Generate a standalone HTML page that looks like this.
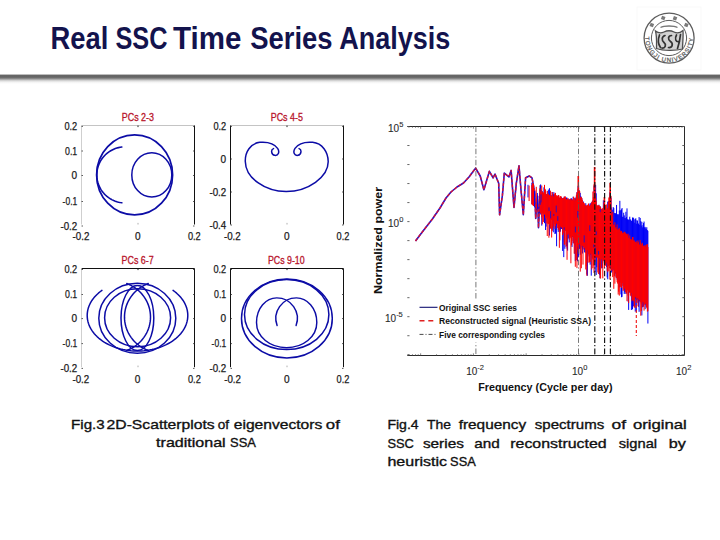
<!DOCTYPE html>
<html><head><meta charset="utf-8"><style>
html,body{margin:0;padding:0;background:#fff;width:720px;height:540px;overflow:hidden}
svg{position:absolute;left:0;top:0}
text{font-family:"Liberation Sans", sans-serif}
.bar{position:absolute;left:0;top:73px;width:720px;height:12px;
background:linear-gradient(to bottom,#fff 0px,#fff 1px,#b0b0b0 1.6px,#666 2.4px,#656565 4.2px,#8a8a8a 5.6px,#cfcfcf 7.4px,#f2f2f2 9px,#fff 11px)}
</style></head><body>
<div class="bar"></div>
<svg width="720" height="540" viewBox="0 0 720 540">
<text x="50.60" y="48.5" font-size="30.8" font-weight="bold" fill="#13134d" textLength="57.80" lengthAdjust="spacingAndGlyphs">Real</text><text x="115.40" y="48.5" font-size="30.8" font-weight="bold" fill="#13134d" textLength="52.00" lengthAdjust="spacingAndGlyphs">SSC</text><text x="173.00" y="48.5" font-size="30.8" font-weight="bold" fill="#13134d" textLength="68.40" lengthAdjust="spacingAndGlyphs">Time</text><text x="250.20" y="48.5" font-size="30.8" font-weight="bold" fill="#13134d" textLength="82.40" lengthAdjust="spacingAndGlyphs">Series</text><text x="339.20" y="48.5" font-size="30.8" font-weight="bold" fill="#13134d" textLength="111.20" lengthAdjust="spacingAndGlyphs">Analysis</text>
<line x1="81.5" y1="125.5" x2="194.5" y2="125.5" stroke="#c4c4c4" stroke-width="1"/><line x1="81.5" y1="125.5" x2="81.5" y2="224.5" stroke="#cfcfcf" stroke-width="1"/><line x1="194.5" y1="125.5" x2="194.5" y2="224.5" stroke="#111" stroke-width="1"/><text x="77.2" y="130.1" font-size="10.3" text-anchor="end" fill="#1a1a1a" stroke="#1a1a1a" stroke-width="0.25" font-weight="normal" textLength="12.8" lengthAdjust="spacingAndGlyphs">0.2</text><line x1="81.5" y1="126.4" x2="83.0" y2="126.4" stroke="#333" stroke-width="0.8"/><line x1="193.0" y1="126.4" x2="194.5" y2="126.4" stroke="#333" stroke-width="0.8"/><text x="77.2" y="154.7" font-size="10.3" text-anchor="end" fill="#1a1a1a" stroke="#1a1a1a" stroke-width="0.25" font-weight="normal" textLength="12.2" lengthAdjust="spacingAndGlyphs">0.1</text><line x1="81.5" y1="151" x2="83.0" y2="151" stroke="#333" stroke-width="0.8"/><line x1="193.0" y1="151" x2="194.5" y2="151" stroke="#333" stroke-width="0.8"/><text x="77.2" y="179.2" font-size="10.3" text-anchor="end" fill="#1a1a1a" stroke="#1a1a1a" stroke-width="0.25" font-weight="normal" textLength="5.6" lengthAdjust="spacingAndGlyphs">0</text><line x1="81.5" y1="175.5" x2="83.0" y2="175.5" stroke="#333" stroke-width="0.8"/><line x1="193.0" y1="175.5" x2="194.5" y2="175.5" stroke="#333" stroke-width="0.8"/><text x="77.2" y="205.2" font-size="10.3" text-anchor="end" fill="#1a1a1a" stroke="#1a1a1a" stroke-width="0.25" font-weight="normal" textLength="14.6" lengthAdjust="spacingAndGlyphs">-0.1</text><line x1="81.5" y1="201.5" x2="83.0" y2="201.5" stroke="#333" stroke-width="0.8"/><line x1="193.0" y1="201.5" x2="194.5" y2="201.5" stroke="#333" stroke-width="0.8"/><text x="77.2" y="229.7" font-size="10.3" text-anchor="end" fill="#1a1a1a" stroke="#1a1a1a" stroke-width="0.25" font-weight="normal" textLength="16.8" lengthAdjust="spacingAndGlyphs">-0.2</text><line x1="81.5" y1="226" x2="83.0" y2="226" stroke="#333" stroke-width="0.8"/><line x1="193.0" y1="226" x2="194.5" y2="226" stroke="#333" stroke-width="0.8"/><text x="81" y="239.8" font-size="10.3" text-anchor="middle" fill="#1a1a1a" stroke="#1a1a1a" stroke-width="0.25" font-weight="normal" textLength="16.8" lengthAdjust="spacingAndGlyphs">-0.2</text><text x="137.7" y="239.8" font-size="10.3" text-anchor="middle" fill="#1a1a1a" stroke="#1a1a1a" stroke-width="0.25" font-weight="normal" textLength="5.6" lengthAdjust="spacingAndGlyphs">0</text><text x="194.3" y="239.8" font-size="10.3" text-anchor="middle" fill="#1a1a1a" stroke="#1a1a1a" stroke-width="0.25" font-weight="normal" textLength="12.8" lengthAdjust="spacingAndGlyphs">0.2</text><line x1="138.0" y1="125.5" x2="138.0" y2="127.1" stroke="#222" stroke-width="1"/><line x1="138.0" y1="222.9" x2="138.0" y2="224.5" stroke="#999" stroke-width="0.8"/><text x="137.9" y="121.4" font-size="10.5" text-anchor="middle" fill="#b8142a" stroke="#b8142a" stroke-width="0.3" textLength="32.199999999999996" lengthAdjust="spacingAndGlyphs">PCs 2-3</text><ellipse cx="134.6" cy="174.9" rx="38" ry="40" fill="none" stroke="#0c0ca6" stroke-width="1.7"/><ellipse cx="151.8" cy="174.9" rx="20" ry="22.2" fill="none" stroke="#0c0ca6" stroke-width="1.5"/><path d="M121.83,147.01 L120.16,147.26 L118.51,147.61 L116.89,148.05 L115.30,148.59 L113.74,149.22 L112.22,149.94 L110.74,150.74 L109.32,151.63 L107.95,152.60 L106.65,153.65 L105.41,154.78 L104.24,155.97 L103.14,157.23 L102.12,158.55 L101.18,159.93 L100.32,161.36 L99.56,162.84 L98.88,164.36 L98.29,165.92 L97.80,167.51 L97.41,169.13 L97.11,170.76 L96.91,172.41 L96.81,174.07 L96.81,175.73 L96.91,177.39 L97.11,179.04 L97.41,180.67 L97.80,182.29 L98.29,183.88 L98.88,185.44 L99.56,186.96 L100.32,188.44 L101.18,189.87 L102.12,191.25 L103.14,192.57 L104.24,193.83 L105.41,195.02 L106.65,196.15 L107.95,197.20 L109.32,198.17 L110.74,199.06 L112.22,199.86 L113.74,200.58 L115.30,201.21 L116.89,201.75 L118.51,202.19 L120.16,202.54 L121.83,202.79" fill="none" stroke="#0c0ca6" stroke-width="1.6" stroke-linecap="round" stroke-linejoin="round"/><line x1="230.5" y1="125.5" x2="343.5" y2="125.5" stroke="#c4c4c4" stroke-width="1"/><line x1="230.5" y1="125.5" x2="230.5" y2="224.5" stroke="#111" stroke-width="1"/><line x1="343.5" y1="125.5" x2="343.5" y2="224.5" stroke="#111" stroke-width="1"/><text x="226.2" y="130.1" font-size="10.3" text-anchor="end" fill="#1a1a1a" stroke="#1a1a1a" stroke-width="0.25" font-weight="normal" textLength="12.8" lengthAdjust="spacingAndGlyphs">0.2</text><line x1="230.5" y1="126.4" x2="232.0" y2="126.4" stroke="#333" stroke-width="0.8"/><line x1="342.0" y1="126.4" x2="343.5" y2="126.4" stroke="#333" stroke-width="0.8"/><text x="226.2" y="162.7" font-size="10.3" text-anchor="end" fill="#1a1a1a" stroke="#1a1a1a" stroke-width="0.25" font-weight="normal" textLength="5.6" lengthAdjust="spacingAndGlyphs">0</text><line x1="230.5" y1="159" x2="232.0" y2="159" stroke="#333" stroke-width="0.8"/><line x1="342.0" y1="159" x2="343.5" y2="159" stroke="#333" stroke-width="0.8"/><text x="226.2" y="195.7" font-size="10.3" text-anchor="end" fill="#1a1a1a" stroke="#1a1a1a" stroke-width="0.25" font-weight="normal" textLength="16.8" lengthAdjust="spacingAndGlyphs">-0.2</text><line x1="230.5" y1="192" x2="232.0" y2="192" stroke="#333" stroke-width="0.8"/><line x1="342.0" y1="192" x2="343.5" y2="192" stroke="#333" stroke-width="0.8"/><text x="226.2" y="228.7" font-size="10.3" text-anchor="end" fill="#1a1a1a" stroke="#1a1a1a" stroke-width="0.25" font-weight="normal" textLength="16.8" lengthAdjust="spacingAndGlyphs">-0.4</text><line x1="230.5" y1="225" x2="232.0" y2="225" stroke="#333" stroke-width="0.8"/><line x1="342.0" y1="225" x2="343.5" y2="225" stroke="#333" stroke-width="0.8"/><text x="232.3" y="239.8" font-size="10.3" text-anchor="middle" fill="#1a1a1a" stroke="#1a1a1a" stroke-width="0.25" font-weight="normal" textLength="16.8" lengthAdjust="spacingAndGlyphs">-0.2</text><text x="286.8" y="239.8" font-size="10.3" text-anchor="middle" fill="#1a1a1a" stroke="#1a1a1a" stroke-width="0.25" font-weight="normal" textLength="5.6" lengthAdjust="spacingAndGlyphs">0</text><text x="343" y="239.8" font-size="10.3" text-anchor="middle" fill="#1a1a1a" stroke="#1a1a1a" stroke-width="0.25" font-weight="normal" textLength="12.8" lengthAdjust="spacingAndGlyphs">0.2</text><line x1="287.0" y1="125.5" x2="287.0" y2="127.1" stroke="#222" stroke-width="1"/><line x1="287.0" y1="222.9" x2="287.0" y2="224.5" stroke="#999" stroke-width="0.8"/><text x="286.8" y="121.4" font-size="10.5" text-anchor="middle" fill="#b8142a" stroke="#b8142a" stroke-width="0.3" textLength="32.199999999999996" lengthAdjust="spacingAndGlyphs">PCs 4-5</text><path d="M273.5,148.6 C270.6,149.6 271.2,154.6 274.6,155.3 C278.2,156 280,152 277.6,148.4 C274,143.2 266,141.8 259.8,142.3 C250.5,143.3 245,152 245.3,161.4 C245.6,178 265,191.5 286.2,191.5 C308,191.5 328.5,177 328.2,161.4 C328,152 322.5,143.3 312.6,142.3 C306.5,141.8 298.6,143.2 295,148.4 C292.6,152 294.4,156 298,155.3 C301.4,154.6 302,149.6 299.1,148.6" fill="none" stroke="#0c0ca6" stroke-width="1.5" stroke-linecap="round" stroke-linejoin="round"/><line x1="81.5" y1="268.5" x2="194.5" y2="268.5" stroke="#111" stroke-width="1"/><line x1="81.5" y1="268.5" x2="81.5" y2="367.2" stroke="#cfcfcf" stroke-width="1"/><line x1="194.5" y1="268.5" x2="194.5" y2="367.2" stroke="#111" stroke-width="1"/><text x="77.2" y="273.2" font-size="10.3" text-anchor="end" fill="#1a1a1a" stroke="#1a1a1a" stroke-width="0.25" font-weight="normal" textLength="12.8" lengthAdjust="spacingAndGlyphs">0.2</text><line x1="81.5" y1="269.5" x2="83.0" y2="269.5" stroke="#333" stroke-width="0.8"/><line x1="193.0" y1="269.5" x2="194.5" y2="269.5" stroke="#333" stroke-width="0.8"/><text x="77.2" y="298.2" font-size="10.3" text-anchor="end" fill="#1a1a1a" stroke="#1a1a1a" stroke-width="0.25" font-weight="normal" textLength="12.2" lengthAdjust="spacingAndGlyphs">0.1</text><line x1="81.5" y1="294.5" x2="83.0" y2="294.5" stroke="#333" stroke-width="0.8"/><line x1="193.0" y1="294.5" x2="194.5" y2="294.5" stroke="#333" stroke-width="0.8"/><text x="77.2" y="322.3" font-size="10.3" text-anchor="end" fill="#1a1a1a" stroke="#1a1a1a" stroke-width="0.25" font-weight="normal" textLength="5.6" lengthAdjust="spacingAndGlyphs">0</text><line x1="81.5" y1="318.6" x2="83.0" y2="318.6" stroke="#333" stroke-width="0.8"/><line x1="193.0" y1="318.6" x2="194.5" y2="318.6" stroke="#333" stroke-width="0.8"/><text x="77.2" y="347.3" font-size="10.3" text-anchor="end" fill="#1a1a1a" stroke="#1a1a1a" stroke-width="0.25" font-weight="normal" textLength="14.6" lengthAdjust="spacingAndGlyphs">-0.1</text><line x1="81.5" y1="343.6" x2="83.0" y2="343.6" stroke="#333" stroke-width="0.8"/><line x1="193.0" y1="343.6" x2="194.5" y2="343.6" stroke="#333" stroke-width="0.8"/><text x="77.2" y="372.09999999999997" font-size="10.3" text-anchor="end" fill="#1a1a1a" stroke="#1a1a1a" stroke-width="0.25" font-weight="normal" textLength="16.8" lengthAdjust="spacingAndGlyphs">-0.2</text><line x1="81.5" y1="368.4" x2="83.0" y2="368.4" stroke="#333" stroke-width="0.8"/><line x1="193.0" y1="368.4" x2="194.5" y2="368.4" stroke="#333" stroke-width="0.8"/><text x="80.8" y="382.5" font-size="10.3" text-anchor="middle" fill="#1a1a1a" stroke="#1a1a1a" stroke-width="0.25" font-weight="normal" textLength="16.8" lengthAdjust="spacingAndGlyphs">-0.2</text><text x="137.6" y="382.5" font-size="10.3" text-anchor="middle" fill="#1a1a1a" stroke="#1a1a1a" stroke-width="0.25" font-weight="normal" textLength="5.6" lengthAdjust="spacingAndGlyphs">0</text><text x="194.4" y="382.5" font-size="10.3" text-anchor="middle" fill="#1a1a1a" stroke="#1a1a1a" stroke-width="0.25" font-weight="normal" textLength="12.8" lengthAdjust="spacingAndGlyphs">0.2</text><line x1="138.0" y1="268.5" x2="138.0" y2="270.1" stroke="#222" stroke-width="1"/><line x1="138.0" y1="365.59999999999997" x2="138.0" y2="367.2" stroke="#999" stroke-width="0.8"/><text x="137.6" y="264.4" font-size="10.5" text-anchor="middle" fill="#b8142a" stroke="#b8142a" stroke-width="0.3" textLength="32.199999999999996" lengthAdjust="spacingAndGlyphs">PCs 6-7</text><path d="M101.93,290.40 L100.10,291.76 L98.37,293.19 L96.75,294.68 L95.25,296.24 L93.87,297.84 L92.60,299.50 L91.46,301.19 L90.46,302.93 L89.58,304.71 L88.84,306.51 L88.23,308.34 L87.76,310.19 L87.44,312.06 L87.25,313.93 L87.20,315.81 L87.30,317.69 L87.53,319.56 L87.91,321.42 L88.42,323.27 L89.07,325.09 L89.86,326.89 L90.78,328.65 L91.83,330.38 L93.01,332.06 L94.31,333.70 L95.74,335.29 L97.28,336.82 L98.94,338.29 L100.70,339.70 L102.57,341.04 L104.53,342.31 L106.59,343.50 L108.73,344.62 L110.95,345.65 L113.25,346.60 L115.62,347.46 L118.05,348.24 L120.53,348.92 L123.06,349.51 L125.63,350.00 L128.23,350.39 L130.86,350.69 L133.51,350.89 L136.17,350.99 L138.83,350.99 L141.49,350.89 L144.14,350.69 L146.77,350.39 L149.37,350.00 L151.94,349.51 L154.47,348.92 L156.95,348.24 L159.38,347.46 L161.75,346.60 L164.05,345.65 L166.27,344.62 L168.41,343.50 L170.47,342.31 L172.43,341.04 L174.30,339.70 L176.06,338.29 L177.72,336.82 L179.26,335.29 L180.69,333.70 L181.99,332.06 L183.17,330.38 L184.22,328.65 L185.14,326.89 L185.93,325.09 L186.58,323.27 L187.09,321.42 L187.47,319.56 L187.70,317.69 L187.80,315.81 L187.75,313.93 L187.56,312.06 L187.24,310.19 L186.77,308.34 L186.16,306.51 L185.42,304.71 L184.54,302.93 L183.54,301.19 L182.40,299.50 L181.13,297.84 L179.75,296.24 L178.25,294.68 L176.63,293.19 L174.90,291.76 L173.07,290.40" fill="none" stroke="#0c0ca6" stroke-width="1.5" stroke-linecap="round" stroke-linejoin="round"/><ellipse cx="137.3" cy="318.3" rx="38.5" ry="35" fill="none" stroke="#0c0ca6" stroke-width="1.5"/><ellipse cx="137.6" cy="317.7" rx="33" ry="29" fill="none" stroke="#0c0ca6" stroke-width="1.5"/><ellipse cx="137.4" cy="318" rx="16.4" ry="32.5" fill="none" stroke="#0c0ca6" stroke-width="1.5"/><path d="M148.26,283.50 L146.57,284.19 L144.92,284.95 L143.31,285.79 L141.75,286.70 L140.23,287.68 L138.77,288.74 L137.36,289.86 L136.01,291.05 L134.73,292.29 L133.50,293.60 L132.35,294.96 L131.26,296.38 L130.25,297.84 L129.32,299.35 L128.46,300.90 L127.68,302.49 L126.98,304.12 L126.37,305.77 L125.84,307.45 L125.40,309.16 L125.05,310.88 L124.78,312.62 L124.60,314.37 L124.51,316.12 L124.51,317.88 L124.60,319.63 L124.78,321.38 L125.05,323.12 L125.40,324.84 L125.84,326.55 L126.37,328.23 L126.98,329.88 L127.68,331.51 L128.46,333.10 L129.32,334.65 L130.25,336.16 L131.26,337.62 L132.35,339.04 L133.50,340.40 L134.73,341.71 L136.01,342.95 L137.36,344.14 L138.77,345.26 L140.23,346.32 L141.75,347.30 L143.31,348.21 L144.92,349.05 L146.57,349.81 L148.26,350.50" fill="none" stroke="#0c0ca6" stroke-width="1.5" stroke-linecap="round" stroke-linejoin="round"/><path d="M126.74,283.50 L128.43,284.19 L130.08,284.95 L131.69,285.79 L133.25,286.70 L134.77,287.68 L136.23,288.74 L137.64,289.86 L138.99,291.05 L140.27,292.29 L141.50,293.60 L142.65,294.96 L143.74,296.38 L144.75,297.84 L145.68,299.35 L146.54,300.90 L147.32,302.49 L148.02,304.12 L148.63,305.77 L149.16,307.45 L149.60,309.16 L149.95,310.88 L150.22,312.62 L150.40,314.37 L150.49,316.12 L150.49,317.88 L150.40,319.63 L150.22,321.38 L149.95,323.12 L149.60,324.84 L149.16,326.55 L148.63,328.23 L148.02,329.88 L147.32,331.51 L146.54,333.10 L145.68,334.65 L144.75,336.16 L143.74,337.62 L142.65,339.04 L141.50,340.40 L140.27,341.71 L138.99,342.95 L137.64,344.14 L136.23,345.26 L134.77,346.32 L133.25,347.30 L131.69,348.21 L130.08,349.05 L128.43,349.81 L126.74,350.50" fill="none" stroke="#0c0ca6" stroke-width="1.5" stroke-linecap="round" stroke-linejoin="round"/><line x1="230.5" y1="268.5" x2="343.5" y2="268.5" stroke="#111" stroke-width="1"/><line x1="230.5" y1="268.5" x2="230.5" y2="367.2" stroke="#111" stroke-width="1"/><line x1="343.5" y1="268.5" x2="343.5" y2="367.2" stroke="#111" stroke-width="1"/><text x="226.2" y="273.2" font-size="10.3" text-anchor="end" fill="#1a1a1a" stroke="#1a1a1a" stroke-width="0.25" font-weight="normal" textLength="12.8" lengthAdjust="spacingAndGlyphs">0.2</text><line x1="230.5" y1="269.5" x2="232.0" y2="269.5" stroke="#333" stroke-width="0.8"/><line x1="342.0" y1="269.5" x2="343.5" y2="269.5" stroke="#333" stroke-width="0.8"/><text x="226.2" y="298.2" font-size="10.3" text-anchor="end" fill="#1a1a1a" stroke="#1a1a1a" stroke-width="0.25" font-weight="normal" textLength="12.2" lengthAdjust="spacingAndGlyphs">0.1</text><line x1="230.5" y1="294.5" x2="232.0" y2="294.5" stroke="#333" stroke-width="0.8"/><line x1="342.0" y1="294.5" x2="343.5" y2="294.5" stroke="#333" stroke-width="0.8"/><text x="226.2" y="322.3" font-size="10.3" text-anchor="end" fill="#1a1a1a" stroke="#1a1a1a" stroke-width="0.25" font-weight="normal" textLength="5.6" lengthAdjust="spacingAndGlyphs">0</text><line x1="230.5" y1="318.6" x2="232.0" y2="318.6" stroke="#333" stroke-width="0.8"/><line x1="342.0" y1="318.6" x2="343.5" y2="318.6" stroke="#333" stroke-width="0.8"/><text x="226.2" y="347.3" font-size="10.3" text-anchor="end" fill="#1a1a1a" stroke="#1a1a1a" stroke-width="0.25" font-weight="normal" textLength="14.6" lengthAdjust="spacingAndGlyphs">-0.1</text><line x1="230.5" y1="343.6" x2="232.0" y2="343.6" stroke="#333" stroke-width="0.8"/><line x1="342.0" y1="343.6" x2="343.5" y2="343.6" stroke="#333" stroke-width="0.8"/><text x="226.2" y="372.09999999999997" font-size="10.3" text-anchor="end" fill="#1a1a1a" stroke="#1a1a1a" stroke-width="0.25" font-weight="normal" textLength="16.8" lengthAdjust="spacingAndGlyphs">-0.2</text><line x1="230.5" y1="368.4" x2="232.0" y2="368.4" stroke="#333" stroke-width="0.8"/><line x1="342.0" y1="368.4" x2="343.5" y2="368.4" stroke="#333" stroke-width="0.8"/><text x="232.6" y="382.5" font-size="10.3" text-anchor="middle" fill="#1a1a1a" stroke="#1a1a1a" stroke-width="0.25" font-weight="normal" textLength="16.8" lengthAdjust="spacingAndGlyphs">-0.2</text><text x="286.8" y="382.5" font-size="10.3" text-anchor="middle" fill="#1a1a1a" stroke="#1a1a1a" stroke-width="0.25" font-weight="normal" textLength="5.6" lengthAdjust="spacingAndGlyphs">0</text><text x="343" y="382.5" font-size="10.3" text-anchor="middle" fill="#1a1a1a" stroke="#1a1a1a" stroke-width="0.25" font-weight="normal" textLength="12.8" lengthAdjust="spacingAndGlyphs">0.2</text><line x1="287.0" y1="268.5" x2="287.0" y2="270.1" stroke="#222" stroke-width="1"/><line x1="287.0" y1="365.59999999999997" x2="287.0" y2="367.2" stroke="#999" stroke-width="0.8"/><text x="286.3" y="264.4" font-size="10.5" text-anchor="middle" fill="#b8142a" stroke="#b8142a" stroke-width="0.3" textLength="36.8" lengthAdjust="spacingAndGlyphs">PCs 9-10</text><ellipse cx="286.9" cy="318.4" rx="45.4" ry="39.5" fill="none" stroke="#0c0ca6" stroke-width="1.5"/><ellipse cx="286.7" cy="314.6" rx="42.2" ry="35" fill="none" stroke="#0c0ca6" stroke-width="1.5"/><path d="M296.1,325.5 A20.6,20.6 0 0 0 276.75,297.85 C266,297.85 256.5,308 256.5,322.5 C256.5,337 270,347.7 286.6,347.7 C303,347.7 316.8,337 316.8,322.5 C316.8,308 307,297.85 296.45,297.85 A20.6,20.6 0 0 0 277.1,325.5" fill="none" stroke="#0c0ca6" stroke-width="1.45" stroke-linecap="round" stroke-linejoin="round"/><line x1="407.3" y1="126.5" x2="684.5" y2="126.5" stroke="#2a2a2a" stroke-width="1"/><line x1="407.3" y1="355.5" x2="684.5" y2="355.5" stroke="#2a2a2a" stroke-width="1"/><line x1="684.5" y1="126.5" x2="684.5" y2="355.5" stroke="#2a2a2a" stroke-width="1"/><line x1="407.3" y1="354.74" x2="409.5" y2="354.74" stroke="#555" stroke-width="0.9"/><line x1="682.3" y1="354.74" x2="684.5" y2="354.74" stroke="#555" stroke-width="0.9"/><line x1="407.3" y1="335.72" x2="409.5" y2="335.72" stroke="#555" stroke-width="0.9"/><line x1="682.3" y1="335.72" x2="684.5" y2="335.72" stroke="#555" stroke-width="0.9"/><line x1="407.3" y1="316.70" x2="409.5" y2="316.70" stroke="#555" stroke-width="0.9"/><line x1="682.3" y1="316.70" x2="684.5" y2="316.70" stroke="#555" stroke-width="0.9"/><line x1="407.3" y1="297.68" x2="409.5" y2="297.68" stroke="#555" stroke-width="0.9"/><line x1="682.3" y1="297.68" x2="684.5" y2="297.68" stroke="#555" stroke-width="0.9"/><line x1="407.3" y1="278.66" x2="409.5" y2="278.66" stroke="#555" stroke-width="0.9"/><line x1="682.3" y1="278.66" x2="684.5" y2="278.66" stroke="#555" stroke-width="0.9"/><line x1="407.3" y1="259.64" x2="409.5" y2="259.64" stroke="#555" stroke-width="0.9"/><line x1="682.3" y1="259.64" x2="684.5" y2="259.64" stroke="#555" stroke-width="0.9"/><line x1="407.3" y1="240.62" x2="409.5" y2="240.62" stroke="#555" stroke-width="0.9"/><line x1="682.3" y1="240.62" x2="684.5" y2="240.62" stroke="#555" stroke-width="0.9"/><line x1="407.3" y1="221.60" x2="409.5" y2="221.60" stroke="#555" stroke-width="0.9"/><line x1="682.3" y1="221.60" x2="684.5" y2="221.60" stroke="#555" stroke-width="0.9"/><line x1="407.3" y1="202.58" x2="409.5" y2="202.58" stroke="#555" stroke-width="0.9"/><line x1="682.3" y1="202.58" x2="684.5" y2="202.58" stroke="#555" stroke-width="0.9"/><line x1="407.3" y1="183.56" x2="409.5" y2="183.56" stroke="#555" stroke-width="0.9"/><line x1="682.3" y1="183.56" x2="684.5" y2="183.56" stroke="#555" stroke-width="0.9"/><line x1="407.3" y1="164.54" x2="409.5" y2="164.54" stroke="#555" stroke-width="0.9"/><line x1="682.3" y1="164.54" x2="684.5" y2="164.54" stroke="#555" stroke-width="0.9"/><line x1="407.3" y1="145.52" x2="409.5" y2="145.52" stroke="#555" stroke-width="0.9"/><line x1="682.3" y1="145.52" x2="684.5" y2="145.52" stroke="#555" stroke-width="0.9"/><line x1="407.3" y1="126.50" x2="409.5" y2="126.50" stroke="#555" stroke-width="0.9"/><line x1="682.3" y1="126.50" x2="684.5" y2="126.50" stroke="#555" stroke-width="0.9"/><line x1="408.95" y1="126.5" x2="408.95" y2="127.8" stroke="#555" stroke-width="0.7"/><line x1="408.95" y1="354.2" x2="408.95" y2="355.5" stroke="#555" stroke-width="0.7"/><line x1="412.48" y1="126.5" x2="412.48" y2="127.8" stroke="#555" stroke-width="0.7"/><line x1="412.48" y1="354.2" x2="412.48" y2="355.5" stroke="#555" stroke-width="0.7"/><line x1="415.54" y1="126.5" x2="415.54" y2="127.8" stroke="#555" stroke-width="0.7"/><line x1="415.54" y1="354.2" x2="415.54" y2="355.5" stroke="#555" stroke-width="0.7"/><line x1="418.24" y1="126.5" x2="418.24" y2="127.8" stroke="#555" stroke-width="0.7"/><line x1="418.24" y1="354.2" x2="418.24" y2="355.5" stroke="#555" stroke-width="0.7"/><line x1="420.65" y1="126.5" x2="420.65" y2="128.7" stroke="#555" stroke-width="0.7"/><line x1="420.65" y1="353.3" x2="420.65" y2="355.5" stroke="#555" stroke-width="0.7"/><line x1="436.53" y1="126.5" x2="436.53" y2="127.8" stroke="#555" stroke-width="0.7"/><line x1="436.53" y1="354.2" x2="436.53" y2="355.5" stroke="#555" stroke-width="0.7"/><line x1="445.82" y1="126.5" x2="445.82" y2="127.8" stroke="#555" stroke-width="0.7"/><line x1="445.82" y1="354.2" x2="445.82" y2="355.5" stroke="#555" stroke-width="0.7"/><line x1="452.41" y1="126.5" x2="452.41" y2="127.8" stroke="#555" stroke-width="0.7"/><line x1="452.41" y1="354.2" x2="452.41" y2="355.5" stroke="#555" stroke-width="0.7"/><line x1="457.52" y1="126.5" x2="457.52" y2="127.8" stroke="#555" stroke-width="0.7"/><line x1="457.52" y1="354.2" x2="457.52" y2="355.5" stroke="#555" stroke-width="0.7"/><line x1="461.70" y1="126.5" x2="461.70" y2="127.8" stroke="#555" stroke-width="0.7"/><line x1="461.70" y1="354.2" x2="461.70" y2="355.5" stroke="#555" stroke-width="0.7"/><line x1="465.23" y1="126.5" x2="465.23" y2="127.8" stroke="#555" stroke-width="0.7"/><line x1="465.23" y1="354.2" x2="465.23" y2="355.5" stroke="#555" stroke-width="0.7"/><line x1="468.29" y1="126.5" x2="468.29" y2="127.8" stroke="#555" stroke-width="0.7"/><line x1="468.29" y1="354.2" x2="468.29" y2="355.5" stroke="#555" stroke-width="0.7"/><line x1="470.99" y1="126.5" x2="470.99" y2="127.8" stroke="#555" stroke-width="0.7"/><line x1="470.99" y1="354.2" x2="470.99" y2="355.5" stroke="#555" stroke-width="0.7"/><line x1="473.40" y1="126.5" x2="473.40" y2="128.7" stroke="#555" stroke-width="0.7"/><line x1="473.40" y1="353.3" x2="473.40" y2="355.5" stroke="#555" stroke-width="0.7"/><line x1="489.28" y1="126.5" x2="489.28" y2="127.8" stroke="#555" stroke-width="0.7"/><line x1="489.28" y1="354.2" x2="489.28" y2="355.5" stroke="#555" stroke-width="0.7"/><line x1="498.57" y1="126.5" x2="498.57" y2="127.8" stroke="#555" stroke-width="0.7"/><line x1="498.57" y1="354.2" x2="498.57" y2="355.5" stroke="#555" stroke-width="0.7"/><line x1="505.16" y1="126.5" x2="505.16" y2="127.8" stroke="#555" stroke-width="0.7"/><line x1="505.16" y1="354.2" x2="505.16" y2="355.5" stroke="#555" stroke-width="0.7"/><line x1="510.27" y1="126.5" x2="510.27" y2="127.8" stroke="#555" stroke-width="0.7"/><line x1="510.27" y1="354.2" x2="510.27" y2="355.5" stroke="#555" stroke-width="0.7"/><line x1="514.45" y1="126.5" x2="514.45" y2="127.8" stroke="#555" stroke-width="0.7"/><line x1="514.45" y1="354.2" x2="514.45" y2="355.5" stroke="#555" stroke-width="0.7"/><line x1="517.98" y1="126.5" x2="517.98" y2="127.8" stroke="#555" stroke-width="0.7"/><line x1="517.98" y1="354.2" x2="517.98" y2="355.5" stroke="#555" stroke-width="0.7"/><line x1="521.04" y1="126.5" x2="521.04" y2="127.8" stroke="#555" stroke-width="0.7"/><line x1="521.04" y1="354.2" x2="521.04" y2="355.5" stroke="#555" stroke-width="0.7"/><line x1="523.74" y1="126.5" x2="523.74" y2="127.8" stroke="#555" stroke-width="0.7"/><line x1="523.74" y1="354.2" x2="523.74" y2="355.5" stroke="#555" stroke-width="0.7"/><line x1="526.15" y1="126.5" x2="526.15" y2="128.7" stroke="#555" stroke-width="0.7"/><line x1="526.15" y1="353.3" x2="526.15" y2="355.5" stroke="#555" stroke-width="0.7"/><line x1="542.03" y1="126.5" x2="542.03" y2="127.8" stroke="#555" stroke-width="0.7"/><line x1="542.03" y1="354.2" x2="542.03" y2="355.5" stroke="#555" stroke-width="0.7"/><line x1="551.32" y1="126.5" x2="551.32" y2="127.8" stroke="#555" stroke-width="0.7"/><line x1="551.32" y1="354.2" x2="551.32" y2="355.5" stroke="#555" stroke-width="0.7"/><line x1="557.91" y1="126.5" x2="557.91" y2="127.8" stroke="#555" stroke-width="0.7"/><line x1="557.91" y1="354.2" x2="557.91" y2="355.5" stroke="#555" stroke-width="0.7"/><line x1="563.02" y1="126.5" x2="563.02" y2="127.8" stroke="#555" stroke-width="0.7"/><line x1="563.02" y1="354.2" x2="563.02" y2="355.5" stroke="#555" stroke-width="0.7"/><line x1="567.20" y1="126.5" x2="567.20" y2="127.8" stroke="#555" stroke-width="0.7"/><line x1="567.20" y1="354.2" x2="567.20" y2="355.5" stroke="#555" stroke-width="0.7"/><line x1="570.73" y1="126.5" x2="570.73" y2="127.8" stroke="#555" stroke-width="0.7"/><line x1="570.73" y1="354.2" x2="570.73" y2="355.5" stroke="#555" stroke-width="0.7"/><line x1="573.79" y1="126.5" x2="573.79" y2="127.8" stroke="#555" stroke-width="0.7"/><line x1="573.79" y1="354.2" x2="573.79" y2="355.5" stroke="#555" stroke-width="0.7"/><line x1="576.49" y1="126.5" x2="576.49" y2="127.8" stroke="#555" stroke-width="0.7"/><line x1="576.49" y1="354.2" x2="576.49" y2="355.5" stroke="#555" stroke-width="0.7"/><line x1="578.90" y1="126.5" x2="578.90" y2="128.7" stroke="#555" stroke-width="0.7"/><line x1="578.90" y1="353.3" x2="578.90" y2="355.5" stroke="#555" stroke-width="0.7"/><line x1="594.78" y1="126.5" x2="594.78" y2="127.8" stroke="#555" stroke-width="0.7"/><line x1="594.78" y1="354.2" x2="594.78" y2="355.5" stroke="#555" stroke-width="0.7"/><line x1="604.07" y1="126.5" x2="604.07" y2="127.8" stroke="#555" stroke-width="0.7"/><line x1="604.07" y1="354.2" x2="604.07" y2="355.5" stroke="#555" stroke-width="0.7"/><line x1="610.66" y1="126.5" x2="610.66" y2="127.8" stroke="#555" stroke-width="0.7"/><line x1="610.66" y1="354.2" x2="610.66" y2="355.5" stroke="#555" stroke-width="0.7"/><line x1="615.77" y1="126.5" x2="615.77" y2="127.8" stroke="#555" stroke-width="0.7"/><line x1="615.77" y1="354.2" x2="615.77" y2="355.5" stroke="#555" stroke-width="0.7"/><line x1="619.95" y1="126.5" x2="619.95" y2="127.8" stroke="#555" stroke-width="0.7"/><line x1="619.95" y1="354.2" x2="619.95" y2="355.5" stroke="#555" stroke-width="0.7"/><line x1="623.48" y1="126.5" x2="623.48" y2="127.8" stroke="#555" stroke-width="0.7"/><line x1="623.48" y1="354.2" x2="623.48" y2="355.5" stroke="#555" stroke-width="0.7"/><line x1="626.54" y1="126.5" x2="626.54" y2="127.8" stroke="#555" stroke-width="0.7"/><line x1="626.54" y1="354.2" x2="626.54" y2="355.5" stroke="#555" stroke-width="0.7"/><line x1="629.24" y1="126.5" x2="629.24" y2="127.8" stroke="#555" stroke-width="0.7"/><line x1="629.24" y1="354.2" x2="629.24" y2="355.5" stroke="#555" stroke-width="0.7"/><line x1="631.65" y1="126.5" x2="631.65" y2="128.7" stroke="#555" stroke-width="0.7"/><line x1="631.65" y1="353.3" x2="631.65" y2="355.5" stroke="#555" stroke-width="0.7"/><line x1="647.53" y1="126.5" x2="647.53" y2="127.8" stroke="#555" stroke-width="0.7"/><line x1="647.53" y1="354.2" x2="647.53" y2="355.5" stroke="#555" stroke-width="0.7"/><line x1="656.82" y1="126.5" x2="656.82" y2="127.8" stroke="#555" stroke-width="0.7"/><line x1="656.82" y1="354.2" x2="656.82" y2="355.5" stroke="#555" stroke-width="0.7"/><line x1="663.41" y1="126.5" x2="663.41" y2="127.8" stroke="#555" stroke-width="0.7"/><line x1="663.41" y1="354.2" x2="663.41" y2="355.5" stroke="#555" stroke-width="0.7"/><line x1="668.52" y1="126.5" x2="668.52" y2="127.8" stroke="#555" stroke-width="0.7"/><line x1="668.52" y1="354.2" x2="668.52" y2="355.5" stroke="#555" stroke-width="0.7"/><line x1="672.70" y1="126.5" x2="672.70" y2="127.8" stroke="#555" stroke-width="0.7"/><line x1="672.70" y1="354.2" x2="672.70" y2="355.5" stroke="#555" stroke-width="0.7"/><line x1="676.23" y1="126.5" x2="676.23" y2="127.8" stroke="#555" stroke-width="0.7"/><line x1="676.23" y1="354.2" x2="676.23" y2="355.5" stroke="#555" stroke-width="0.7"/><line x1="679.29" y1="126.5" x2="679.29" y2="127.8" stroke="#555" stroke-width="0.7"/><line x1="679.29" y1="354.2" x2="679.29" y2="355.5" stroke="#555" stroke-width="0.7"/><line x1="681.99" y1="126.5" x2="681.99" y2="127.8" stroke="#555" stroke-width="0.7"/><line x1="681.99" y1="354.2" x2="681.99" y2="355.5" stroke="#555" stroke-width="0.7"/><path d="M415.50,241.00 L420.00,235.00 L425.00,228.50 L432.40,219.00 L440.00,208.00 L446.00,198.00 L451.00,192.00 L457.00,187.00 L463.50,183.00 L469.00,177.00 L472.00,173.00 L475.60,168.10 L480.20,176.00 L483.90,189.80 L486.50,181.00 L489.40,171.30 L493.10,177.80 L495.00,174.00 L498.70,183.30 L499.60,214.80 L502.40,195.40 L504.30,173.10 L508.90,176.90 L511.10,170.40 L514.00,207.40 L516.30,183.30 L519.00,165.70 L521.00,190.00 L523.30,214.80 L525.60,177.80 L529.30,176.00 L532.00,177.80 L534.80,192.60 L535.70,218.50 L537.60,196.30 L538.50,227.80 L540.40,185.20" fill="none" stroke="#2010c8" stroke-width="1.6" stroke-linejoin="round"/><path d="M415.50,241.00 L420.00,235.00 L425.00,228.50 L432.40,219.00 L440.00,208.00 L446.00,198.00 L451.00,192.00 L457.00,187.00 L463.50,183.00 L469.00,177.00 L472.00,173.00 L475.60,168.10 L480.20,176.00 L483.90,189.80 L486.50,181.00 L489.40,171.30 L493.10,177.80 L495.00,174.00 L498.70,183.30 L499.60,214.80 L502.40,195.40 L504.30,173.10 L508.90,176.90 L511.10,170.40 L514.00,207.40 L516.30,183.30 L519.00,165.70 L521.00,190.00 L523.30,214.80 L525.60,177.80 L529.30,176.00 L532.00,177.80 L534.80,192.60 L535.70,218.50 L537.60,196.30 L538.50,227.80 L540.40,185.20" fill="none" stroke="#f01020" stroke-width="1.4" stroke-dasharray="3.2,1.8" stroke-linejoin="round" opacity="0.85"/><path d="M528.00,184.80V197.43M531.85,182.70V204.28M534.60,190.73V207.33M537.35,193.03V208.76M540.10,193.39V211.72M540.65,184.40V214.52M541.20,189.83V212.11M541.75,193.59V225.63M542.30,191.11V213.62M542.85,193.17V212.96M543.40,193.68V213.20M543.95,187.32V216.32M544.50,193.88V223.21M545.05,193.85V214.06M545.60,191.61V230.01M546.15,194.34V226.63M546.70,194.37V215.40M547.25,194.67V216.64M547.80,191.11V219.52M548.35,189.61V217.07M548.90,194.74V217.74M549.45,188.21V235.56M550.00,195.01V220.45M550.55,195.28V228.44M551.10,195.83V218.90M551.65,195.32V219.88M552.20,192.04V229.81M552.75,195.00V227.71M553.30,194.19V232.29M553.85,192.08V221.24M554.40,195.18V221.66M554.95,196.33V234.06M555.50,193.47V233.52M556.05,197.21V224.44M556.60,197.27V246.27M557.15,197.40V224.31M557.70,197.24V224.18M558.25,195.03V231.86M558.80,197.72V228.91M559.35,197.86V232.10M559.90,197.90V225.93M560.45,198.08V231.74M561.00,197.23V228.19M561.55,197.31V229.02M562.10,198.40V229.07M562.65,198.24V250.94M563.20,198.63V228.61M563.75,198.04V257.14M564.30,196.51V242.12M564.85,198.97V248.77M565.40,197.92V230.54M565.95,198.75V230.77M566.50,197.57V245.99M567.05,197.67V248.61M567.60,199.41V250.63M568.15,199.54V232.72M568.70,199.45V238.45M569.25,199.72V242.45M569.80,199.11V234.65M570.35,199.11V236.53M570.90,198.64V236.02M571.45,198.28V238.42M572.00,199.55V246.95M572.55,199.75V236.96M573.10,196.69V236.55M573.65,200.47V243.40M574.20,200.84V237.60M574.75,198.24V253.80M575.30,198.91V261.17M575.85,197.46V240.14M576.40,195.88V241.19M576.95,192.18V242.41M577.50,193.24V261.31M578.05,185.80V254.60M578.60,185.61V256.96M579.15,190.36V248.72M579.70,195.19V248.92M580.25,192.85V254.79M580.80,196.21V248.39M581.35,197.48V244.44M581.90,198.46V247.04M582.45,202.50V253.50M583.00,203.09V249.07M583.55,201.53V246.71M584.10,204.40V249.87M584.65,205.08V252.15M585.20,205.97V252.94M585.75,203.24V248.88M586.30,206.00V249.06M586.85,205.43V274.50M587.40,206.00V275.78M587.95,205.16V250.47M588.50,205.55V251.23M589.05,204.28V256.44M589.60,205.82V252.41M590.15,203.11V264.66M590.70,204.27V254.93M591.25,202.80V275.68M591.80,202.40V253.64M592.35,201.00V257.99M592.90,200.19V254.33M593.45,197.03V256.73M594.00,185.64V261.58M594.55,190.88V255.65M595.10,190.74V271.98M595.65,184.84V257.96M596.20,193.31V275.03M596.75,205.35V267.24M597.30,206.27V257.32M597.85,205.99V257.46M598.40,206.01V270.30M598.95,204.73V260.67M599.50,208.29V274.80M600.05,206.04V278.25M600.60,207.76V266.45M601.15,209.03V259.33M601.70,209.64V268.38M602.25,209.88V267.69M602.80,208.99V262.51M603.35,200.32V260.37M603.90,205.49V260.63M604.45,199.47V263.93M605.00,207.37V261.20M605.55,207.72V263.25M606.10,211.75V261.79M606.65,210.07V267.05M607.20,208.45V277.47M607.75,201.76V279.28M608.30,201.07V266.16M608.85,203.59V265.47M609.40,202.07V264.15M609.95,191.70V265.02M610.50,199.64V267.54M611.05,197.60V267.58M611.60,207.50V272.52M612.15,211.92V266.26M612.70,209.68V271.19M613.25,207.12V270.30M613.80,208.10V269.15M614.35,213.08V275.57M614.90,213.09V271.09M615.45,213.53V273.64M616.00,213.08V277.55M616.55,204.94V275.42M617.10,214.16V279.64M617.65,214.61V277.50M618.20,214.04V278.46M618.75,215.11V281.84M619.30,210.50V287.46M619.85,200.82V280.96M620.40,210.23V282.64M620.95,215.80V294.41M621.50,209.29V297.24M622.05,208.04V296.85M622.60,216.81V283.12M623.15,216.92V285.58M623.70,212.72V286.55M624.25,215.39V293.95M624.80,217.89V292.32M625.35,218.17V286.91M625.90,211.81V294.03M626.45,217.05V288.54M627.00,208.39V289.08M627.55,219.27V289.59M628.10,219.55V301.59M628.65,219.75V309.91M629.20,219.79V292.02M629.75,216.71V292.72M630.30,219.47V292.30M630.85,219.72V292.68M631.40,220.91V309.98M631.95,220.99V294.28M632.50,217.47V309.37M633.05,221.50V296.10M633.60,217.68V306.29M634.15,219.50V295.56M634.70,222.71V305.78M635.25,218.99V311.56M635.80,218.28V298.78M636.35,223.75V311.94M636.90,220.23V302.28M637.45,220.73V299.61M638.00,224.12V303.06M638.55,223.53V306.79M639.10,217.06V311.80M639.65,224.86V301.19M640.20,217.95V301.83M640.75,220.98V300.51M641.30,225.52V304.35M641.85,221.88V315.45M642.40,227.36V307.31M642.95,225.19V302.00M643.50,223.09V306.70M644.05,221.56V302.80M644.60,227.31V304.03M645.15,226.87V309.21M645.70,228.37V304.73M646.25,228.95V305.55M646.80,227.20V307.11M647.35,230.09V305.22M647.90,230.86V323.54" stroke="#0000f6" stroke-width="1"/><path d="M529.10,185.56V201.05M531.85,185.08V204.28M532.40,182.74V204.89M532.95,186.10V205.48M533.50,183.70V206.11M536.25,186.81V209.17M540.10,188.53V211.74M540.65,190.98V213.12M541.20,193.26V213.90M541.75,185.60V217.31M542.30,191.80V224.28M542.85,191.96V213.00M543.40,193.74V221.94M543.95,192.36V213.83M544.50,184.87V214.44M545.05,188.85V215.09M545.60,189.72V218.40M546.15,194.34V223.45M546.70,194.11V217.70M547.25,191.01V236.02M547.80,193.73V223.59M548.35,193.69V223.91M548.90,195.09V237.72M549.45,195.28V224.93M550.00,195.49V218.04M550.55,190.65V228.55M551.10,195.81V219.67M551.65,195.99V237.56M552.20,192.02V231.08M552.75,193.87V228.04M553.30,196.49V220.65M553.85,196.38V226.42M554.40,193.52V224.22M554.95,196.83V228.88M555.50,192.86V225.88M556.05,196.12V223.76M556.60,195.17V223.44M557.15,195.91V224.17M557.70,196.07V228.05M558.25,195.36V229.96M558.80,195.03V228.02M559.35,197.87V247.80M559.90,196.41V240.34M560.45,196.22V226.47M561.00,196.05V226.84M561.55,198.15V227.47M562.10,197.93V228.05M562.65,198.47V235.12M563.20,198.61V233.05M563.75,197.55V229.00M564.30,196.65V244.83M564.85,197.50V244.15M565.40,196.36V230.54M565.95,199.18V246.79M566.50,199.30V241.70M567.05,198.49V259.82M567.60,199.51V234.35M568.15,198.12V234.71M568.70,199.60V233.35M569.25,199.85V239.76M569.80,199.96V238.45M570.35,198.63V237.68M570.90,199.22V263.28M571.45,200.24V245.35M572.00,199.03V241.07M572.55,200.24V236.32M573.10,200.26V243.17M573.65,196.68V237.98M574.20,197.73V253.62M574.75,200.56V244.98M575.30,200.25V266.78M575.85,198.39V239.08M576.40,194.78V260.11M576.95,192.35V268.14M577.50,192.93V246.80M578.05,188.91V250.13M578.60,188.07V252.32M579.15,190.19V244.54M579.70,191.07V243.67M580.25,197.07V271.65M580.80,198.38V245.50M581.35,196.83V268.22M581.90,198.09V244.97M582.45,200.00V245.94M583.00,202.14V264.58M583.55,202.50V246.57M584.10,204.54V247.38M584.65,203.18V248.23M585.20,205.92V250.01M585.75,205.10V269.48M586.30,205.95V266.24M586.85,205.54V275.83M587.40,204.71V250.44M587.95,205.26V262.42M588.50,203.48V254.38M589.05,205.65V262.80M589.60,205.99V261.92M590.15,205.34V261.85M590.70,204.59V253.25M591.25,203.43V254.11M591.80,202.03V269.51M592.35,201.29V259.61M592.90,191.50V268.02M593.45,197.35V265.45M594.00,184.40V272.87M594.55,185.23V258.29M595.10,193.26V261.88M595.65,197.74V257.21M596.20,200.57V256.63M596.75,204.87V257.49M597.30,205.99V257.44M597.85,205.03V272.43M598.40,205.84V274.04M598.95,204.99V263.47M599.50,206.44V258.39M600.05,207.85V278.20M600.60,206.70V278.52M601.15,209.22V259.22M601.70,209.99V259.35M602.25,207.97V268.11M602.80,210.72V278.33M603.35,208.97V260.66M603.90,203.42V260.45M604.45,204.55V267.97M605.00,205.99V261.46M605.55,204.93V265.77M606.10,209.53V263.48M606.65,204.45V262.19M607.20,209.41V270.77M607.75,208.06V272.27M608.30,202.06V265.28M608.85,197.43V271.07M609.40,198.13V268.00M609.95,196.53V279.43M610.50,191.08V265.42M611.05,195.86V270.72M611.60,213.48V269.72M612.15,218.34V269.38M612.70,211.79V277.12M613.25,224.46V268.96M613.80,224.91V288.82M614.35,224.98V276.33M614.90,222.28V283.68M615.45,228.11V272.63M616.00,226.98V276.41M616.55,228.93V277.98M617.10,224.46V282.19M617.65,229.55V283.61M618.20,229.85V294.58M618.75,229.11V291.70M619.30,227.89V295.63M619.85,229.94V282.65M620.40,231.32V286.90M620.95,231.62V281.70M621.50,230.95V287.98M622.05,232.62V286.00M622.60,233.08V283.12M623.15,232.45V290.96M623.70,233.46V289.77M624.25,231.77V288.72M624.80,231.86V288.37M625.35,232.83V292.36M625.90,234.41V290.02M626.45,233.86V293.59M627.00,233.69V301.18M627.55,235.49V290.48M628.10,233.74V295.66M628.65,237.75V303.14M629.20,238.25V291.04M629.75,235.46V292.24M630.30,238.84V295.45M630.85,239.49V296.31M631.40,239.45V293.13M631.95,239.84V301.33M632.50,236.99V299.80M633.05,237.03V300.37M633.60,240.76V301.03M634.15,240.23V307.47M634.70,241.18V307.56M635.25,242.06V297.13M635.80,241.96V297.23M636.35,242.58V298.38M636.90,240.85V300.33M637.45,243.35V297.99M638.00,240.42V306.30M638.55,242.19V298.87M639.10,244.46V300.30M639.65,244.79V300.03M640.20,239.88V302.46M640.75,242.58V315.71M641.30,244.56V311.08M641.85,244.20V303.74M642.40,242.85V301.79M642.95,246.01V306.92M643.50,246.21V302.28M644.05,245.21V310.64M644.60,246.34V304.80M645.15,245.33V304.07M645.70,246.86V303.82M646.25,244.84V306.97M646.80,244.51V308.28M647.35,244.15V311.59M647.90,247.05V311.16" stroke="#fe0000" stroke-width="1"/><path d="M636.3,300V336" stroke="#f01010" stroke-width="1.1" stroke-dasharray="3,2"/><path d="M540.20,200.38v4.45M541.00,194.40v8.00M549.00,207.42v3.63M550.60,211.17v7.22M553.80,213.90v2.01M556.20,205.60v6.84M557.80,216.20v4.69M564.20,227.32v2.51M575.40,226.58v5.81M577.80,210.89v6.79M584.20,235.37v7.09M589.80,225.26v5.79M593.80,244.48v2.94M595.40,247.69v6.97M596.20,231.41v3.55M598.60,250.99v3.67M600.20,208.98v3.17" stroke="#1010e0" stroke-width="1" opacity="0.85"/><path d="M578.3,205V176 M594.6,205V167 M604.4,212V197 M610.2,210V183" stroke="#fe0000" stroke-width="1.6"/><path d="M577.6,200L578.3,176L579.2,200Z M593.8,205L594.6,167L595.6,205Z M609.4,208L610.2,183L611.1,208Z" fill="#fe0000"/><line x1="475.9" y1="126.5" x2="475.9" y2="355.5" stroke="#555" stroke-width="0.8" stroke-dasharray="5.5,2.2,1.2,2.2"/><line x1="578.5" y1="126.5" x2="578.5" y2="355.5" stroke="#555" stroke-width="0.8" stroke-dasharray="5.5,2.2,1.2,2.2"/><line x1="594.8" y1="126.5" x2="594.8" y2="355.5" stroke="#111" stroke-width="1.15" stroke-dasharray="5.5,2.2,1.2,2.2"/><line x1="604.6" y1="126.5" x2="604.6" y2="355.5" stroke="#111" stroke-width="1.15" stroke-dasharray="5.5,2.2,1.2,2.2"/><line x1="610.4" y1="126.5" x2="610.4" y2="355.5" stroke="#111" stroke-width="1.15" stroke-dasharray="5.5,2.2,1.2,2.2"/><rect x="416" y="299" width="130" height="43.5" fill="#fff"/><line x1="419.5" y1="307.3" x2="437.5" y2="307.3" stroke="#101070" stroke-width="1.1"/><line x1="419.5" y1="320.8" x2="433.8" y2="320.8" stroke="#e02020" stroke-width="1.4" stroke-dasharray="5,3.8"/><line x1="419.5" y1="334.4" x2="437.5" y2="334.4" stroke="#333" stroke-width="0.9" stroke-dasharray="4,2,1,2"/><text x="439" y="310.90000000000003" font-size="9.4" font-weight="bold" fill="#111" textLength="78" lengthAdjust="spacingAndGlyphs">Original SSC series</text><text x="439" y="324.40000000000003" font-size="9.4" font-weight="bold" fill="#111" textLength="152" lengthAdjust="spacingAndGlyphs">Reconstructed signal (Heuristic SSA)</text><text x="439" y="338.0" font-size="9.4" font-weight="bold" fill="#111" textLength="106" lengthAdjust="spacingAndGlyphs">Five corresponding cycles</text><text x="388" y="131.5" font-size="10" fill="#2a2a2a" stroke="#2a2a2a" stroke-width="0.1">10<tspan dy="-5" font-size="7.5">5</tspan></text><text x="388" y="226.6" font-size="10" fill="#2a2a2a" stroke="#2a2a2a" stroke-width="0.1">10<tspan dy="-5" font-size="7.5">0</tspan></text><text x="385" y="321.7" font-size="10" fill="#2a2a2a" stroke="#2a2a2a" stroke-width="0.1">10<tspan dy="-5" font-size="7.5">-5</tspan></text><text x="466.2" y="375" font-size="10" fill="#2a2a2a" stroke="#2a2a2a" stroke-width="0.1">10<tspan dy="-5" font-size="7.5">-2</tspan></text><text x="572" y="375" font-size="10" fill="#2a2a2a" stroke="#2a2a2a" stroke-width="0.1">10<tspan dy="-5" font-size="7.5">0</tspan></text><text x="676" y="375" font-size="10" fill="#2a2a2a" stroke="#2a2a2a" stroke-width="0.1">10<tspan dy="-5" font-size="7.5">2</tspan></text><text x="478.2" y="390.7" font-size="10.6" font-weight="bold" fill="#111" textLength="134.5" lengthAdjust="spacingAndGlyphs">Frequency (Cycle per day)</text><text transform="translate(382,294) rotate(-90)" font-size="11" font-weight="bold" fill="#111" textLength="107" lengthAdjust="spacingAndGlyphs">Normalized power</text><rect x="637" y="7" width="64" height="63" fill="none" stroke="#f9f9f9" stroke-width="1"/><g stroke="#5c5c5c" fill="none"><circle cx="669.1" cy="38.1" r="25" stroke-width="1.3"/><circle cx="669" cy="38" r="17.6" stroke-width="1"/></g><path id="lgb" d="M645.9,31.9 A24,24 0 1 0 692.3,31.9" fill="none"/><text font-size="6" fill="#555" font-family="Liberation Serif" stroke="#666" stroke-width="0.25" letter-spacing="1.05"><textPath href="#lgb" startOffset="50%" text-anchor="middle">TONGJI UNIVERSITY</textPath></text><path d="M655.5,31 C658,33 661,33.5 664,32 C667,30.5 671,30.5 674,32 C677,33.5 680,33 683,30.5 C683.5,37 682.5,43 682.5,49 C676,51 663,51 656.5,48.5 C656.5,42 657,37 655.5,31 Z" fill="#d2d2d2" stroke="#505050" stroke-width="1.3"/><path d="M659.5,35 C658,39 658,44 660.5,47.5 M665,35.5 C661.5,36.5 661.5,40.5 664,42.5 C666.5,44.5 665.5,48.5 662,48 M671.5,35.5 C668,35.5 667.5,39.5 670.5,41.5 C673.5,43.5 672.5,48 668.5,47.5 M676.5,35 C674.5,38.5 675.5,42.5 679.5,41.5 M680.5,34.5 C680,40 679,44 677.5,48.5" fill="none" stroke="#333" stroke-width="1.7" stroke-linecap="round"/><path d="M660.5,27.5 C664,25.5 674,25.5 677.5,27.5" fill="none" stroke="#777" stroke-width="1.4"/><rect x="650.0" y="23.2" width="3.6" height="3.6" fill="#7a7a7a" transform="rotate(20 651.8 25)"/><rect x="661.4000000000001" y="16.2" width="3.6" height="3.6" fill="#7a7a7a" transform="rotate(20 663.2 18)"/><rect x="673.2" y="16.5" width="3.6" height="3.6" fill="#7a7a7a" transform="rotate(20 675 18.3)"/><rect x="684.5" y="23.2" width="3.6" height="3.6" fill="#7a7a7a" transform="rotate(20 686.3 25)"/>
<text x="71.10" y="428.7" font-size="13.2" fill="#111" stroke="#111" stroke-width="0.35" textLength="33.60" lengthAdjust="spacingAndGlyphs">Fig.3</text><text x="106.60" y="428.7" font-size="13.2" fill="#111" stroke="#111" stroke-width="0.35" textLength="108.10" lengthAdjust="spacingAndGlyphs">2D-Scatterplots</text><text x="217.80" y="428.7" font-size="13.2" fill="#111" stroke="#111" stroke-width="0.35" textLength="11.30" lengthAdjust="spacingAndGlyphs">of</text><text x="233.80" y="428.7" font-size="13.2" fill="#111" stroke="#111" stroke-width="0.35" textLength="88.50" lengthAdjust="spacingAndGlyphs">eigenvectors</text><text x="325.80" y="428.7" font-size="13.2" fill="#111" stroke="#111" stroke-width="0.35" textLength="14.00" lengthAdjust="spacingAndGlyphs">of</text><text x="156.10" y="447.4" font-size="13.2" fill="#111" stroke="#111" stroke-width="0.35" textLength="69.60" lengthAdjust="spacingAndGlyphs">traditional</text><text x="230.10" y="447.4" font-size="13.2" fill="#111" stroke="#111" stroke-width="0.35" textLength="25.90" lengthAdjust="spacingAndGlyphs">SSA</text><text x="387.40" y="428.9" font-size="13.2" fill="#111" stroke="#111" stroke-width="0.35" textLength="31.30" lengthAdjust="spacingAndGlyphs">Fig.4</text><text x="427.10" y="428.9" font-size="13.2" fill="#111" stroke="#111" stroke-width="0.35" textLength="23.90" lengthAdjust="spacingAndGlyphs">The</text><text x="458.70" y="428.9" font-size="13.2" fill="#111" stroke="#111" stroke-width="0.35" textLength="67.40" lengthAdjust="spacingAndGlyphs">frequency</text><text x="534.80" y="428.9" font-size="13.2" fill="#111" stroke="#111" stroke-width="0.35" textLength="69.40" lengthAdjust="spacingAndGlyphs">spectrums</text><text x="611.60" y="428.9" font-size="13.2" fill="#111" stroke="#111" stroke-width="0.35" textLength="14.50" lengthAdjust="spacingAndGlyphs">of</text><text x="632.90" y="428.9" font-size="13.2" fill="#111" stroke="#111" stroke-width="0.35" textLength="53.90" lengthAdjust="spacingAndGlyphs">original</text><text x="387.40" y="447.8" font-size="13.2" fill="#111" stroke="#111" stroke-width="0.35" textLength="26.50" lengthAdjust="spacingAndGlyphs">SSC</text><text x="422.90" y="447.8" font-size="13.2" fill="#111" stroke="#111" stroke-width="0.35" textLength="41.00" lengthAdjust="spacingAndGlyphs">series</text><text x="474.20" y="447.8" font-size="13.2" fill="#111" stroke="#111" stroke-width="0.35" textLength="25.50" lengthAdjust="spacingAndGlyphs">and</text><text x="510.30" y="447.8" font-size="13.2" fill="#111" stroke="#111" stroke-width="0.35" textLength="96.30" lengthAdjust="spacingAndGlyphs">reconstructed</text><text x="618.70" y="447.8" font-size="13.2" fill="#111" stroke="#111" stroke-width="0.35" textLength="38.40" lengthAdjust="spacingAndGlyphs">signal</text><text x="668.70" y="447.8" font-size="13.2" fill="#111" stroke="#111" stroke-width="0.35" textLength="17.10" lengthAdjust="spacingAndGlyphs">by</text><text x="387.40" y="466" font-size="13.2" fill="#111" stroke="#111" stroke-width="0.35" textLength="59.70" lengthAdjust="spacingAndGlyphs">heuristic</text><text x="450.10" y="466" font-size="13.2" fill="#111" stroke="#111" stroke-width="0.35" textLength="25.70" lengthAdjust="spacingAndGlyphs">SSA</text>
</svg>
</body></html>
